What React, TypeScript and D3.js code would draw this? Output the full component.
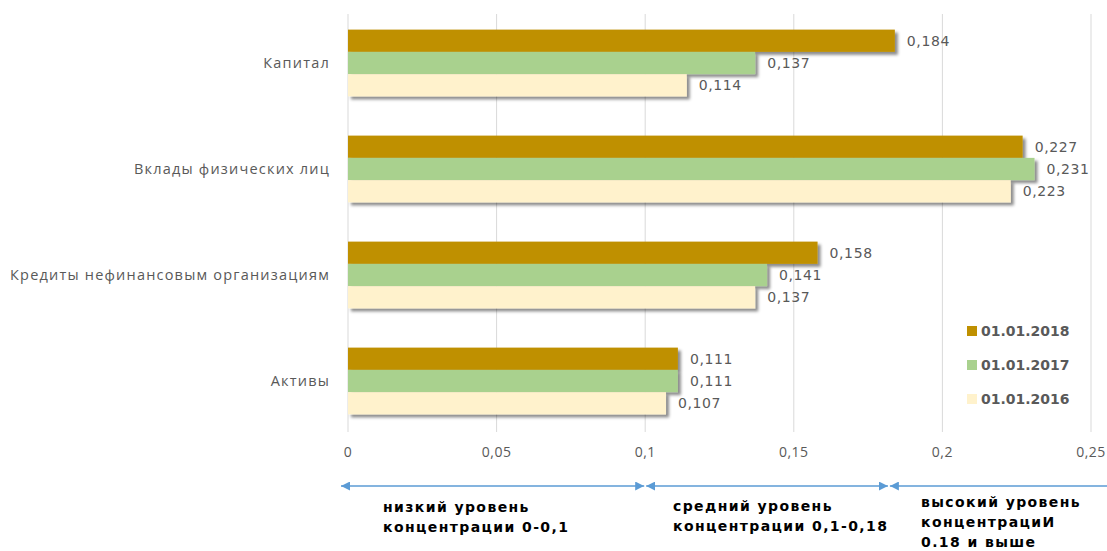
import React from "react";
import * as d3 from "d3";

const categories = ["Капитал", "Вклады физических лиц", "Кредиты нефинансовым организациям", "Активы"];
const seriesNames = ["01.01.2018", "01.01.2017", "01.01.2016"];
const values2018 = [0.184, 0.227, 0.158, 0.111];
const values2017 = [0.137, 0.231, 0.141, 0.111];
const values2016 = [0.114, 0.223, 0.137, 0.107];
const seriesColors = ["#BF9000", "#A9D18E", "#FFF2CC"];
const xTicks = [0, 0.05, 0.1, 0.15, 0.2, 0.25];
const zoneBounds = [0, 0.1, 0.182, 0.26];
const zoneTexts = [
  ["низкий уровень", "концентрации 0-0,1"],
  ["средний уровень", "концентрации 0,1-0,18"],
  ["высокий уровень", "концентрациИ", "0.18 и выше"],
];

const W = 1107;
const H = 551;

export default function App() {
  const series = [values2018, values2017, values2016];
  const x = d3.scaleLinear().domain([0, 0.25]).range([348, 1091]);
  const y = d3.scaleBand<string>().domain(categories).range([10, 434]).paddingInner(0.37).paddingOuter(0.185);
  const inner = d3.scaleBand<number>().domain([0, 1, 2]).range([0, y.bandwidth()]);
  const fmt = (v: number) => d3.format(".3f")(v).replace(".", ",");
  const grey = "#595959";
  const arrowY = 486;
  const zoneX = zoneBounds.map((b) => x(b));
  zoneX[0] = x(0) - 8;
  return (
    <svg width={W} height={H} style={{ position: "absolute", left: 0, top: 0, background: "#fff" }}>
      <defs>
        <filter id="sh" x="-5%" y="-20%" width="115%" height="160%">
          <feDropShadow dx="3" dy="3" stdDeviation="1.5" floodColor="#000" floodOpacity="0.45" />
        </filter>
        <marker id="ah" viewBox="0 0 10 10" refX="10" refY="5" markerWidth="9" markerHeight="9" orient="auto-start-reverse" markerUnits="userSpaceOnUse">
          <path d="M0,0 L10,5 L0,10 z" fill="#5B9BD5" />
        </marker>
      </defs>
      {xTicks.map((t) => (
        <g key={t}>
          <line x1={x(t)} x2={x(t)} y1={14} y2={432} stroke="#D9D9D9" strokeWidth={1} />
          <text x={x(t)} y={457} textAnchor="middle" fontFamily="Open Sans, sans-serif" fontSize={14} fill={grey} style={{ letterSpacing: "0.5px" }}>
            {String(t).replace(".", ",")}
          </text>
        </g>
      ))}
      {categories.map((c, ci) => (
        <g key={c}>
          <text x={330} y={(y(c) as number) + y.bandwidth() / 2 + 4.5} textAnchor="end" fontFamily="Open Sans, sans-serif" fontSize={14.5} fill={grey} style={{ letterSpacing: "1.2px" }}>
            {c}
          </text>
          {series.map((s, si) => {
            const by = (y(c) as number) + (inner(si) as number);
            const bh = inner.bandwidth();
            return (
              <g key={si}>
                <rect x={x(0)} y={by} width={x(s[ci]) - x(0)} height={bh} fill={seriesColors[si]} filter="url(#sh)" />
                <text x={x(s[ci]) + 12} y={by + bh / 2 + 5} fontFamily="DejaVu Sans, sans-serif" fontSize={14} fill={grey} style={{ letterSpacing: "0.6px" }}>
                  {fmt(s[ci])}
                </text>
              </g>
            );
          })}
        </g>
      ))}
      {seriesNames.map((n, i) => (
        <g key={n}>
          <rect x={967} y={326 + i * 34} width={10} height={10} fill={seriesColors[i]} />
          <text x={981} y={336 + i * 34} fontFamily="DejaVu Sans, sans-serif" fontWeight="bold" fontSize={14} fill={grey}>
            {n}
          </text>
        </g>
      ))}
      {[0, 1, 2].map((i) => (
        <line key={i} x1={zoneX[i] + 1} x2={zoneX[i + 1] - 1} y1={arrowY} y2={arrowY} stroke="#5B9BD5" strokeWidth={1.5} markerStart="url(#ah)" markerEnd="url(#ah)" />
      ))}
      {zoneTexts.map((lines, zi) => {
        const tx = [383, 673, 921][zi];
        const ty = [512, 511, 507][zi];
        return lines.map((l, li) => (
          <text key={zi + "-" + li} x={tx} y={ty + li * 20} fontFamily="DejaVu Sans, sans-serif" fontWeight="bold" fontSize={14} fill="#000" style={{ letterSpacing: "1.4px" }}>
            {l}
          </text>
        ));
      })}
    </svg>
  );
}
